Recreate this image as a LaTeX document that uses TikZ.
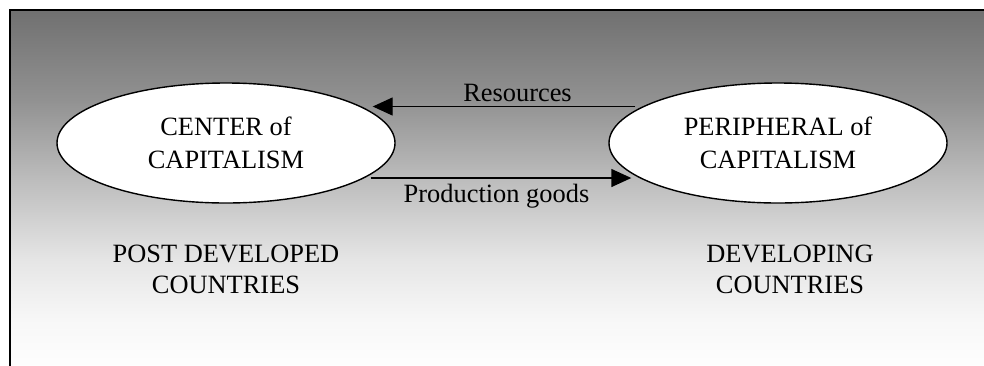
\documentclass[tikz,border=0pt]{standalone}
\usepackage{fontspec}
\setmainfont{Liberation Serif}
\usetikzlibrary{shapes.geometric,arrows.meta}
\pgfdeclareverticalshading{bgfade}{100bp}{color(0bp)=(white); color(25bp)=(white); color(32.53bp)=(black!3); color(40.75bp)=(black!10); color(51.71bp)=(black!26); color(62.67bp)=(black!43); color(75bp)=(black!56); color(100bp)=(black!56)}
\begin{document}
\begin{tikzpicture}[x=1pt,y=-1pt,
  oval/.style={ellipse,draw=black,fill=white,line width=1.4pt,minimum width=338pt,minimum height=120pt,inner sep=0pt,align=center,font=\fontsize{26.4}{33}\selectfont},
  lbl/.style={align=center,font=\fontsize{26.4}{31}\selectfont,inner sep=0pt},
  flowlbl/.style={anchor=base,font=\fontsize{26.4}{31}\selectfont,inner sep=0pt},
  flow/.style={line width=1.4pt,-{Triangle[length=20pt,width=18pt]}}]
\useasboundingbox (0,0) rectangle (984,365);
\begin{scope}
\clip (0,0) rectangle (984,365);
\shade[shading=bgfade] (10,10) rectangle (1010,375);
\draw[line width=1.4pt] (10,10) rectangle (1010,375);
\end{scope}
\node[oval] (L) at (226,143) {CENTER of\\CAPITALISM};
\node[oval] (R) at (778,143) {PERIPHERAL of\\CAPITALISM};
\draw[flow] ([shift={(27,-36.5)}]R.west) -- ([shift={(-23,-36.5)}]L.east);
\draw[flow] ([shift={(-25,35)}]L.east) -- ([shift={(23,35)}]R.west);
\node[flowlbl] (res) at (517.5,101.7) {Resources};
\node[flowlbl] (prod) at (496.5,202) {Production goods};
\node[lbl] (post) at (226,269) {POST DEVELOPED\\COUNTRIES};
\node[lbl] (dev) at (790,269) {DEVELOPING\\COUNTRIES};
\end{tikzpicture}
\end{document}
